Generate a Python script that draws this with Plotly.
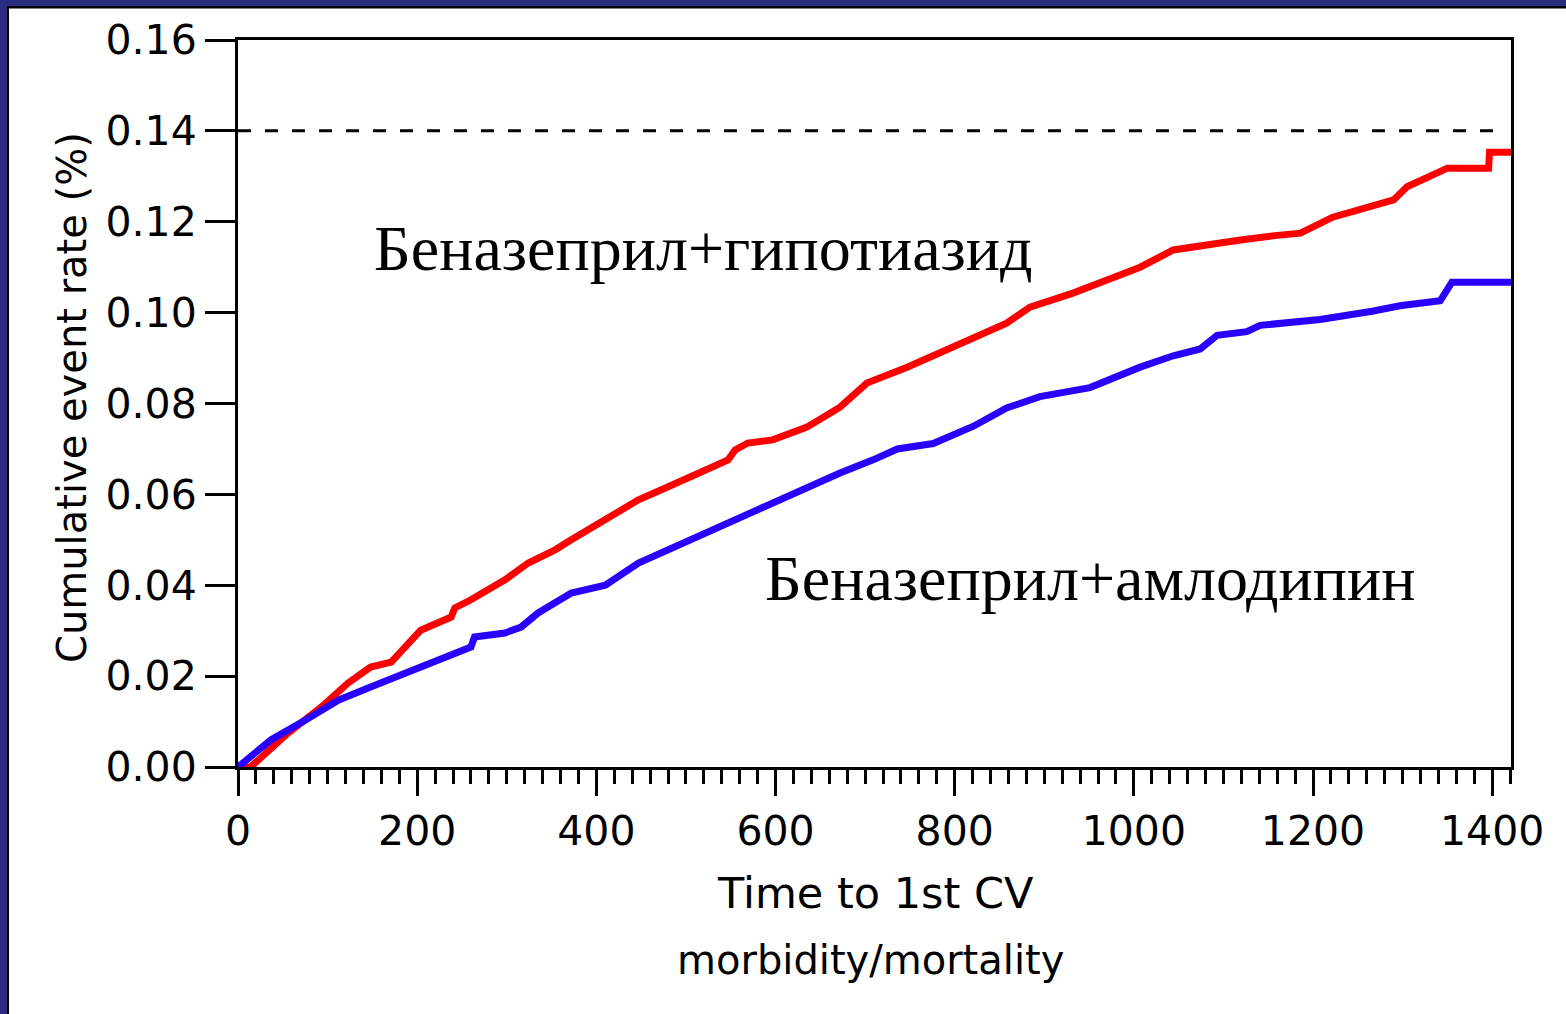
import plotly.graph_objects as go

# Cumulative event rate curves (time in days, rate)
t_hctz = [0, 14, 56, 93, 123, 148, 171, 204, 238, 242, 260, 298, 324, 354, 372, 410,
          447, 484, 521, 547, 555, 569, 597, 635, 672, 702, 747, 784, 821, 858, 884,
          932, 970, 1007, 1044, 1082, 1119, 1160, 1186, 1222, 1260, 1290, 1305, 1316,
          1350, 1396, 1397, 1421]
r_hctz = [0.0, 0.0, 0.0075, 0.0132, 0.0185, 0.0220, 0.0231, 0.0301, 0.0330, 0.0350,
          0.0368, 0.0412, 0.0449, 0.0478, 0.0500, 0.0544, 0.0588, 0.0620, 0.0654,
          0.0676, 0.0698, 0.0713, 0.0720, 0.0748, 0.0792, 0.0845, 0.0880, 0.0911,
          0.0946, 0.0977, 0.1012, 0.1043, 0.1072, 0.1100, 0.1138, 0.1150, 0.1160,
          0.1170, 0.1175, 0.1210, 0.1232, 0.1248, 0.1277, 0.1288, 0.1318, 0.1318,
          0.1353, 0.1353]

t_amlo = [0, 37, 75, 112, 148, 186, 223, 260, 264, 298, 316, 335, 372, 410, 447, 484,
          521, 558, 597, 635, 672, 709, 736, 776, 821, 858, 895, 951, 970, 1007, 1044,
          1074, 1093, 1126, 1141, 1208, 1266, 1297, 1342, 1350, 1355, 1421]
r_amlo = [0.0, 0.0060, 0.0103, 0.0147, 0.0176, 0.0207, 0.0235, 0.0264, 0.0286, 0.0295,
          0.0308, 0.0339, 0.0383, 0.0400, 0.0449, 0.0482, 0.0515, 0.0544, 0.0581,
          0.0616, 0.0647, 0.0676, 0.0700, 0.0712, 0.0750, 0.0790, 0.0815, 0.0835,
          0.0850, 0.0880, 0.0905, 0.0920, 0.0950, 0.0958, 0.0972, 0.0985, 0.1003,
          0.1015, 0.1026, 0.1050, 0.1067, 0.1067]

x_ticks = [0, 200, 400, 600, 800, 1000, 1200, 1400]
y_ticks = [0.00, 0.02, 0.04, 0.06, 0.08, 0.10, 0.12, 0.14, 0.16]
ref_rate = 0.14

label_hctz = "Беназеприл+гипотиазид"
label_amlo = "Беназеприл+амлодипин"
x_title = ["Time to 1st CV", "morbidity/mortality"]
y_title = "Cumulative event rate (%)"

W, H = 1566, 1014
L, R, T, B = 238, 55, 40, 247
PW, PH = W - L - R, H - T - B


def px(xp):
    return (xp - L) / PW


def py(yp):
    return (H - B - yp) / PH


SANS = "DejaVu Sans"
SERIF = "Liberation Serif"

fig = go.Figure()
fig.add_trace(go.Scatter(x=t_hctz, y=r_hctz, mode="lines",
                         line=dict(color="#FF0000", width=7), showlegend=False))
fig.add_trace(go.Scatter(x=t_amlo, y=r_amlo, mode="lines",
                         line=dict(color="#2800FF", width=7), showlegend=False))

shapes = [
    # reference level
    dict(type="line", xref="x", yref="y", x0=0, x1=1412, y0=ref_rate, y1=ref_rate,
         line=dict(color="black", width=3, dash="13px,14px")),
    # slide frame: navy bands on top and left with a dark edge
    dict(type="rect", xref="paper", yref="paper", x0=px(0), x1=px(W), y0=py(6), y1=py(0),
         fillcolor="#2C2C82", line=dict(width=0), layer="above"),
    dict(type="rect", xref="paper", yref="paper", x0=px(0), x1=px(W), y0=py(8.5), y1=py(6),
         fillcolor="#000000", line=dict(width=0), layer="above"),
    dict(type="rect", xref="paper", yref="paper", x0=px(0), x1=px(7), y0=py(H), y1=py(0),
         fillcolor="#2C2C82", line=dict(width=0), layer="above"),
    dict(type="rect", xref="paper", yref="paper", x0=px(7), x1=px(9), y0=py(H), y1=py(6),
         fillcolor="#000000", line=dict(width=0), layer="above"),
]

annotations = [
    dict(text=label_hctz, xref="paper", yref="paper", x=px(703), y=py(248),
         xanchor="center", yanchor="middle", showarrow=False,
         font=dict(family=SERIF, size=64, color="black")),
    dict(text=label_amlo, xref="paper", yref="paper", x=px(1090), y=py(578),
         xanchor="center", yanchor="middle", showarrow=False,
         font=dict(family=SERIF, size=64, color="black")),
    dict(text=x_title[0], xref="paper", yref="paper", x=px(875), y=py(893),
         xanchor="center", yanchor="middle", showarrow=False,
         font=dict(family=SANS, size=43, color="black")),
    dict(text=x_title[1], xref="paper", yref="paper", x=px(870), y=py(960),
         xanchor="center", yanchor="middle", showarrow=False,
         font=dict(family=SANS, size=40, color="black")),
    dict(text=y_title, xref="paper", yref="paper", x=px(72), y=py(398),
         xanchor="center", yanchor="middle", showarrow=False, textangle=-90,
         font=dict(family=SANS, size=40, color="black")),
]

fig.update_layout(
    width=W, height=H,
    margin=dict(l=L, r=R, t=T, b=B, pad=0),
    paper_bgcolor="white", plot_bgcolor="white",
    shapes=shapes, annotations=annotations,
    xaxis=dict(range=[0, 1421], tickvals=x_ticks, ticktext=[str(v) for v in x_ticks],
               showgrid=False, zeroline=False, showline=True, linecolor="black",
               linewidth=3, mirror=True, ticks="outside", ticklen=26, tickwidth=3,
               tickcolor="black",
               minor=dict(dtick=20, tick0=0, ticks="outside", ticklen=14, tickwidth=3,
                          tickcolor="black", showgrid=False),
               tickfont=dict(family=SANS, size=41, color="black")),
    yaxis=dict(range=[0, 0.16], tickvals=y_ticks, ticktext=[f"{v:.2f}" for v in y_ticks],
               showgrid=False, zeroline=False, showline=True, linecolor="black",
               linewidth=3, mirror=True, ticks="outside", ticklen=30, tickwidth=3,
               tickcolor="black",
               tickfont=dict(family=SANS, size=41, color="black")),
)

fig.write_html("out.html")
